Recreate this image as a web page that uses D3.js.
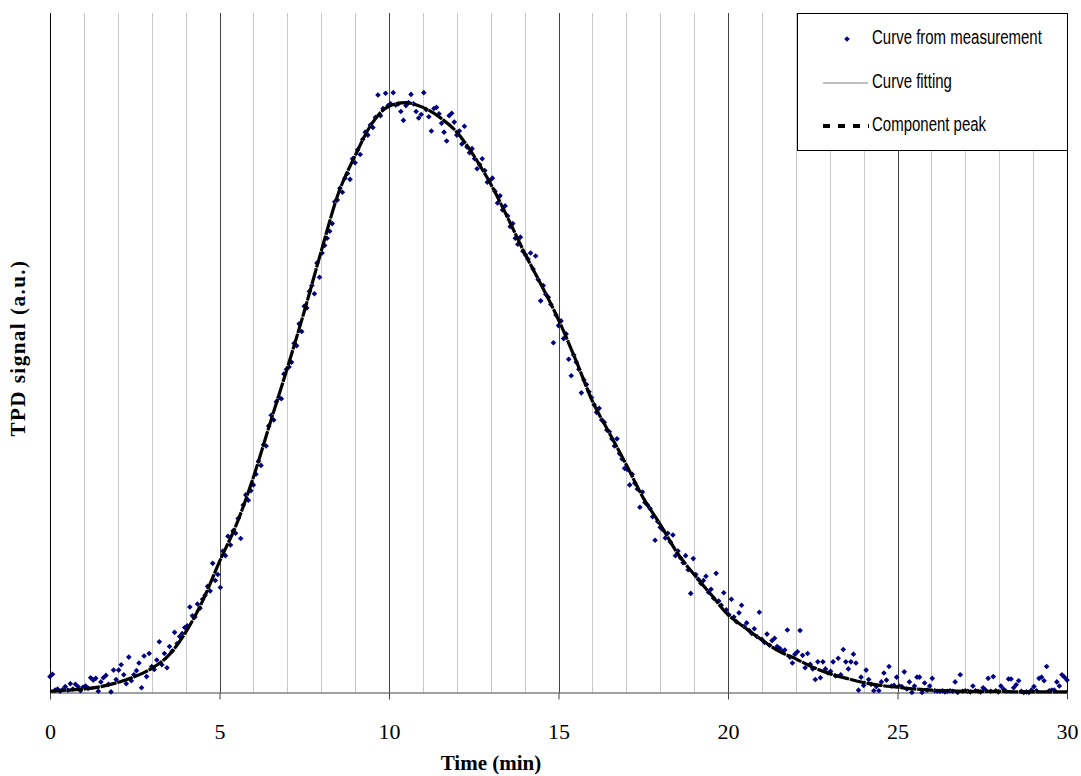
<!DOCTYPE html>
<html>
<head>
<meta charset="utf-8">
<script src="https://cdn.jsdelivr.net/npm/d3@7"></script>
<style>
    body { margin: 0; background: #fff; }
    #js_chart { width: 1081px; height: 776px; }
</style>
</head>
<body>
<div id="js_chart"></div>
<script>

// ******************************************************
// Data
// ******************************************************
const timeTicks = [0, 5, 10, 15, 20, 25, 30];
const gridMinutes = [1, 2, 3, 4, 5, 6, 7, 8, 9, 10, 11, 12, 13, 14, 15, 16, 17, 18, 19, 20,
                     21, 22, 23, 24, 25, 26, 27, 28, 29];

// sampling interval of the measurement, minutes
const sampleStep = 0.075;

// measured TPD signal (a.u.), one value per sample from t = 0
const measSignal = [
    0.027, 0.031, 0.004, 0.006, 0.002, 0.005, 0.010, 0.004, 0.015, 0.006,
    0.014, 0.010, 0.003, 0.009, 0.011, 0.007, 0.025, 0.021, 0.024, 0.002,
    0.018, 0.025, 0.029, 0.014, 0.001, 0.038, 0.022, 0.038, 0.047, 0.030,
    0.015, 0.060, 0.020, 0.030, 0.037, 0.050, 0.008, 0.062, 0.027, 0.066,
    0.044, 0.039, 0.055, 0.086, 0.047, 0.066, 0.042, 0.078, 0.070, 0.102,
    0.083, 0.095, 0.100, 0.110, 0.113, 0.145, 0.130, 0.128, 0.150, 0.143,
    0.158, 0.165, 0.180, 0.172, 0.219, 0.190, 0.200, 0.178, 0.240, 0.232,
    0.265, 0.250, 0.274, 0.270, 0.295, 0.261, 0.318, 0.335, 0.326, 0.342,
    0.352, 0.370, 0.392, 0.385, 0.420, 0.418, 0.452, 0.470, 0.462, 0.493,
    0.500, 0.498, 0.540, 0.548, 0.552, 0.560, 0.592, 0.588, 0.625, 0.612,
    0.655, 0.652, 0.680, 0.690, 0.676, 0.728, 0.704, 0.745, 0.758, 0.770,
    0.782, 0.795, 0.832, 0.835, 0.855, 0.848, 0.872, 0.880, 0.870, 0.905,
    0.898, 0.920, 0.912, 0.938, 0.950, 0.945, 0.962, 0.958, 0.975, 1.013,
    0.978, 0.990, 1.016, 0.995, 0.998, 1.017, 0.996, 0.998, 0.985, 0.970,
    0.995, 1.000, 1.014, 0.998, 0.985, 0.974, 0.980, 1.017, 0.988, 0.976,
    0.952, 0.990, 0.992, 0.981, 0.965, 0.950, 0.935, 0.978, 0.982, 0.967,
    0.945, 0.952, 0.930, 0.960, 0.925, 0.915, 0.922, 0.905, 0.888, 0.895,
    0.905, 0.885, 0.865, 0.868, 0.872, 0.850, 0.830, 0.842, 0.818, 0.825,
    0.808, 0.790, 0.795, 0.770, 0.760, 0.772, 0.748, 0.742, 0.735, 0.745,
    0.718, 0.740, 0.700, 0.664, 0.690, 0.675, 0.670, 0.658, 0.593, 0.640,
    0.622, 0.630, 0.600, 0.608, 0.565, 0.537, 0.572, 0.560, 0.548, 0.508,
    0.530, 0.522, 0.510, 0.500, 0.488, 0.475, 0.482, 0.462, 0.458, 0.445,
    0.442, 0.430, 0.418, 0.430, 0.405, 0.396, 0.380, 0.378, 0.352, 0.370,
    0.355, 0.345, 0.314, 0.340, 0.322, 0.318, 0.312, 0.298, 0.258, 0.290,
    0.280, 0.276, 0.262, 0.270, 0.255, 0.267, 0.232, 0.240, 0.228, 0.220,
    0.232, 0.208, 0.168, 0.227, 0.200, 0.192, 0.185, 0.190, 0.197, 0.170,
    0.175, 0.160, 0.202, 0.155, 0.148, 0.169, 0.140, 0.132, 0.158, 0.128,
    0.120, 0.135, 0.148, 0.112, 0.118, 0.105, 0.100, 0.108, 0.095, 0.136,
    0.090, 0.085, 0.099, 0.080, 0.088, 0.092, 0.078, 0.075, 0.070, 0.072,
    0.106, 0.060, 0.050, 0.065, 0.069, 0.105, 0.063, 0.042, 0.066, 0.048,
    0.040, 0.022, 0.052, 0.025, 0.052, 0.040, 0.033, 0.036, 0.052, 0.028,
    0.058, 0.030, 0.073, 0.052, 0.040, 0.052, 0.065, 0.050, 0.004, 0.026,
    0.012, 0.038, 0.022, 0.014, 0.003, 0.010, 0.003, 0.018, 0.033, 0.021,
    0.044, 0.011, 0.012, 0.026, 0.011, 0.010, 0.035, 0.006, 0.018, 0.000,
    0.011, 0.026, 0.026, 0.000, 0.016, 0.004, 0.011, 0.024, 0.003, 0.002,
    0.002, 0.003, 0.001, 0.002, 0.003, 0.002, 0.018, 0.000, 0.030, 0.002,
    0.003, 0.002, 0.001, 0.011, 0.003, 0.002, 0.001, 0.008, 0.004, 0.024,
    0.002, 0.027, 0.003, 0.001, 0.011, 0.006, 0.002, 0.023, 0.023, 0.008,
    0.013, 0.020, 0.002, 0.000, 0.001, 0.000, 0.004, 0.010, 0.003, 0.024,
    0.026, 0.020, 0.044, 0.003, 0.004, 0.004, 0.018, 0.011, 0.030, 0.026,
    0.021
];

// fitted curve (single component, so the component peak is the same curve)
const fitTime = [
    0, 0.5, 1, 1.5, 2, 2.5, 3, 3.5, 4, 4.5,
    5, 5.5, 6, 6.5, 7, 7.5, 8, 8.5, 9, 9.5,
    10, 10.5, 11, 11.5, 12, 12.5, 13, 13.5, 14, 14.5,
    15, 15.5, 16, 16.5, 17, 17.5, 18, 18.5, 19, 19.5,
    20, 20.5, 21, 21.5, 22, 22.5, 23, 23.5, 24, 24.5,
    25, 25.5, 26, 26.5, 27, 27.5, 28, 28.5, 29, 29.5, 30
];
const fitSignal = [
    0.002, 0.004, 0.006, 0.010, 0.017, 0.027, 0.041, 0.063, 0.102, 0.155,
    0.222, 0.285, 0.365, 0.458, 0.550, 0.646, 0.748, 0.845, 0.910, 0.965,
    0.994, 1.000, 0.992, 0.975, 0.950, 0.910, 0.862, 0.805, 0.745, 0.690,
    0.632, 0.565, 0.494, 0.440, 0.386, 0.330, 0.285, 0.237, 0.200, 0.166,
    0.132, 0.110, 0.089, 0.070, 0.057, 0.043, 0.032, 0.024, 0.017, 0.012,
    0.009, 0.006, 0.004, 0.003, 0.002, 0.002, 0.002, 0.001, 0.001, 0.001, 0.001
];

const legendLabels = ["Curve from measurement", "Curve fitting", "Component peak"];

createPlot();

function createPlot() {

    // ******************************************************
    // Settings
    // ******************************************************
    let width = 1081,
        height = 776,
        plot = {left: 50, right: 1067, top: 13, bottom: 692.5};

    let x = d3.scaleLinear().domain([0, 30]).range([plot.left, plot.right]);
    let y = d3.scaleLinear().domain([0, 1.152]).range([plot.bottom, plot.top]);

    let measData = measSignal.map(function (v, i) { return {t: i * sampleStep, v: v}; });
    let fitData = fitTime.map(function (t, i) { return {t: t, v: fitSignal[i]}; });

    const serif = "'Times New Roman', 'Liberation Serif', serif";
    const sans = "Arial, 'Liberation Sans', sans-serif";
    const dot = d3.symbol(d3.symbolDiamond2).size(20);

    // ******************************************************
    // svg
    // ******************************************************
    let svg = d3.select("#js_chart")
        .append("svg")
        .attr("width", width)
        .attr("height", height);

    svg.append("rect").attr("width", width).attr("height", height).attr("fill", "#fff");

    // vertical grid lines, darker every 5 min
    svg.append("g")
        .selectAll("line")
        .data(gridMinutes)
        .enter().append("line")
            .attr("x1", function (d) { return Math.round(x(d)) + 0.5; })
            .attr("x2", function (d) { return Math.round(x(d)) + 0.5; })
            .attr("y1", plot.top)
            .attr("y2", plot.bottom)
            .attr("stroke", function (d) { return d % 5 === 0 ? "#444" : "#c8c8c8"; })
            .attr("stroke-width", 1);

    // left and right borders
    svg.append("line")
        .attr("x1", plot.left + 0.5).attr("x2", plot.left + 0.5)
        .attr("y1", plot.top).attr("y2", plot.bottom)
        .attr("stroke", "#000");
    svg.append("line")
        .attr("x1", plot.right + 0.5).attr("x2", plot.right + 0.5)
        .attr("y1", plot.top).attr("y2", plot.bottom)
        .attr("stroke", "#000");

    // x axis
    let xAxis = svg.append("g")
        .attr("transform", "translate(0," + plot.bottom + ")")
        .call(d3.axisBottom(x).tickValues(timeTicks).tickSize(7).tickSizeOuter(0).tickFormat(d3.format("d")));
    xAxis.select(".domain").attr("stroke", "#444");
    xAxis.selectAll(".tick line").attr("stroke", "#444");
    xAxis.selectAll(".tick text")
        .attr("y", 46)
        .attr("dy", null)
        .attr("fill", "#000")
        .style("font-family", serif)
        .style("font-size", "22px");

    // axis titles
    svg.append("text")
        .attr("x", 491)
        .attr("y", 770)
        .attr("text-anchor", "middle")
        .style("font-family", serif)
        .style("font-size", "21px")
        .style("font-weight", "bold")
        .text("Time (min)");

    svg.append("text")
        .attr("transform", "translate(25,348) rotate(-90)")
        .attr("text-anchor", "middle")
        .style("font-family", serif)
        .style("font-size", "21px")
        .style("font-weight", "bold")
        .style("letter-spacing", "1.5px")
        .text("TPD signal (a.u.)");

    // ******************************************************
    // Series
    // ******************************************************
    let line = d3.line()
        .x(function (d) { return x(d.t); })
        .y(function (d) { return y(d.v); })
        .curve(d3.curveMonotoneX);

    svg.append("g")
        .selectAll("path")
        .data(measData)
        .enter().append("path")
            .attr("transform", function (d) { return "translate(" + x(d.t) + "," + y(d.v) + ")"; })
            .attr("d", dot)
            .attr("fill", "#000080");

    // curve fitting (thin) and component peak (thick dashed) on top
    svg.append("path")
        .datum(fitData)
        .attr("d", line)
        .attr("fill", "none")
        .attr("stroke", "#808080")
        .attr("stroke-width", 1);

    svg.append("path")
        .datum(fitData)
        .attr("d", line)
        .attr("fill", "none")
        .attr("stroke", "#000")
        .attr("stroke-width", 3.2)
        .attr("stroke-dasharray", "16,1");

    // ******************************************************
    // Legend
    // ******************************************************
    let legend = svg.append("g");
    legend.append("rect")
        .attr("x", 797.5).attr("y", plot.top + 0.5)
        .attr("width", 270).attr("height", 137)
        .attr("fill", "#fff")
        .attr("stroke", "#000");

    let rowY = [39, 83, 126];

    legend.append("path")
        .attr("transform", "translate(847," + rowY[0] + ")")
        .attr("d", dot)
        .attr("fill", "#000080");
    legend.append("line")
        .attr("x1", 823).attr("x2", 868)
        .attr("y1", rowY[1]).attr("y2", rowY[1])
        .attr("stroke", "#808080").attr("stroke-width", 1);
    legend.append("line")
        .attr("x1", 823).attr("x2", 869)
        .attr("y1", rowY[2]).attr("y2", rowY[2])
        .attr("stroke", "#000").attr("stroke-width", 4)
        .attr("stroke-dasharray", "7,8");

    // narrow, tall legend text as in the original
    legend.selectAll("text.lbl")
        .data(legendLabels)
        .enter().append("text")
            .attr("class", "lbl")
            .attr("transform", function (d, i) { return "translate(872," + (rowY[i] + 5) + ") scale(1,1.3)"; })
            .style("font-family", sans)
            .style("font-size", "15px")
            .text(function (d) { return d; });
}
</script>
</body>
</html>
